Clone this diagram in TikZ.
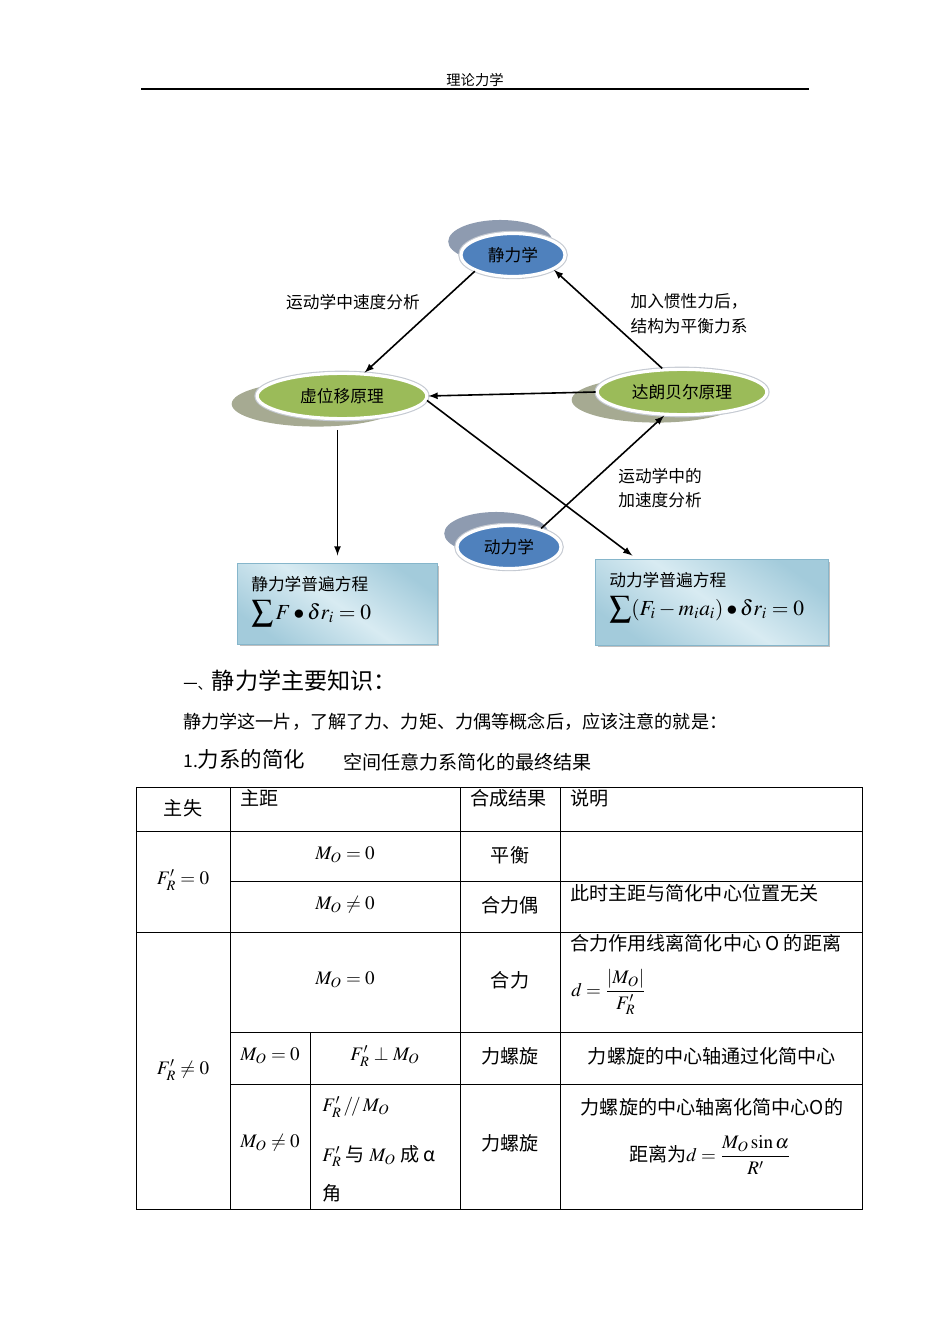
\documentclass[tikz,border=0pt]{standalone}
\usepackage{amsmath,amssymb}
\usepackage{mathptmx}
\usepackage[no-math]{fontspec}
\setmainfont{Noto Sans CJK SC}
\usepackage{xcolor}
\usetikzlibrary{arrows,shapes,positioning,shadows,calc}

\definecolor{staticblue}{HTML}{4F81BD}
\definecolor{ringgray}{HTML}{C5CAD2}
\definecolor{blueshade}{HTML}{8E9BB0}
\definecolor{principlegreen}{HTML}{9BBB59}
\definecolor{greenshade}{HTML}{A6AA92}
\definecolor{boxblue}{HTML}{A3CBDB}
\definecolor{boxlight}{HTML}{D8EBF2}
\definecolor{boxedge}{HTML}{86B6CB}

\begin{document}
\begin{tikzpicture}[x=0.0221cm, y=-0.0221cm,
    ball/.style={ellipse, draw=white, line width=2pt, inner sep=0pt,
        font=\fontsize{10.5}{12}\selectfont},
    blueball/.style={ball, general shadow={fill=blueshade, shadow xshift=-8pt, shadow yshift=8.5pt},
        preaction={draw=ringgray, line width=3.4pt}, fill=staticblue,
        minimum width=2.3cm, minimum height=0.95cm},
    greenball/.style={ball, general shadow={fill=greenshade, shadow xshift=-16pt, shadow yshift=-5pt},
        preaction={draw=ringgray, line width=3.4pt}, fill=principlegreen,
        minimum width=3.75cm, minimum height=1.0cm},
    eqbox/.style={draw=boxedge, line width=0.6pt,
        general shadow={fill=black!25, shadow xshift=1.2pt, shadow yshift=-1.2pt},
        top color=boxblue, bottom color=boxblue, middle color=boxlight, shading angle=-35},
    arrowline/.style={-latex, line width=1pt},
    labeltext/.style={font=\fontsize{10.5}{15.5}\selectfont, inner sep=0pt},
    cell/.style={font=\fontsize{12}{14}\selectfont, inner sep=0pt},
    tableline/.style={line width=0.6pt}]

    % page
    \useasboundingbox[fill=white] (0,0) rectangle (950,1344);
    \node[font=\fontsize{9}{10}\selectfont] (header) at (475,80) {理论力学};
    \draw[line width=1pt] (141,89) -- (809,89);

    % Ellipses for the four topics
    \node[blueball] (statics) at (513,255) {静力学};
    \node[greenball] (virtual) at (342,396) {虚位移原理};
    \node[greenball] (dalembert) at (682,392) {达朗贝尔原理};
    \node[blueball] (dynamics) at (509,547) {动力学};

    % Boxes for the general equations
    \node[eqbox, minimum width=4.4cm, minimum height=1.77cm] (statEq) at (337.5,604) {};
    \node[eqbox, minimum width=5.13cm, minimum height=1.88cm] (dynEq) at (712,602.5) {};
    \node[labeltext, anchor=west] (statEqTitle) at (251,584) {静力学普遍方程};
    \node[anchor=west, font=\fontsize{13.5}{15}\selectfont, inner sep=0pt] (statEqFormula) at (251,614)
        {$\displaystyle\sum F\bullet\delta r_i=0$};
    \node[labeltext, anchor=west] (dynEqTitle) at (609,580) {动力学普遍方程};
    \node[anchor=west, font=\fontsize{13.5}{15}\selectfont, inner sep=0pt] (dynEqFormula) at (609,610)
        {$\displaystyle\sum(F_i-m_ia_i)\bullet\delta r_i=0$};

    % Arrows
    \draw[arrowline] (statics.203) -- (virtual.46);
    \draw[arrowline] (dalembert.130) -- (statics.340);
    \draw[arrowline] (dalembert.west) -- (virtual.east);
    \draw[arrowline, shorten >=4pt] (virtual.357) -- (dynEq.150);
    \draw[arrowline] (dynamics.30) -- (dalembert.233);
    \draw[arrowline, shorten <=6pt, shorten >=5pt] (virtual.south -| statEq.north) -- (statEq.north);

    % Arrow labels
    \node[labeltext] (velocityLabel) at (353,302) {运动学中速度分析};
    \node[labeltext, align=center] (inertiaLabel) at (689,314) {加入惯性力后，\\结构为平衡力系};
    \node[labeltext, align=left, anchor=west] (accelLabel) at (618,488) {运动学中的\\加速度分析};

    % Section text
    \node[anchor=base west, inner sep=0pt] (sectionTitle) at (183,689)
        {{\fontsize{9}{10}\selectfont 一、}{\fontsize{14.5}{16}\selectfont 静力学主要知识：}};
    \node[anchor=west, inner sep=0pt, font=\fontsize{11.4}{13}\selectfont] (introText) at (183,722)
        {静力学这一片，了解了力、力矩、力偶等概念后，应该注意的就是：};
    \node[anchor=west, inner sep=0pt, font=\fontsize{13.5}{15}\selectfont] (reduceTitle) at (183,759)
        {{\fontsize{11}{12}\selectfont 1.}力系的简化};
    \node[cell, anchor=west] (reduceNote) at (343,762) {空间任意力系简化的最终结果};

    % Table
    \draw[tableline] (136,787) rectangle (862,1209);
    \foreach \y in {831,932} \draw[tableline] (136,\y) -- (862,\y);
    \foreach \y in {881,1032,1084} \draw[tableline] (230,\y) -- (862,\y);
    \foreach \x in {230,460,560} \draw[tableline] (\x,787) -- (\x,1209);
    \draw[tableline] (310,1032) -- (310,1209);

    \node[cell] (headMain) at (183,808) {主失};
    \node[cell, anchor=west] (headMoment) at (240,798) {主距};
    \node[cell, anchor=west] (headResult) at (470,798) {合成结果};
    \node[cell, anchor=west] (headNote) at (570,798) {说明};

    \node[cell] (forceZero) at (183,880) {$F'_R=0$};
    \node[cell] (momZeroA) at (345,855) {$M_O=0$};
    \node[cell] (balance) at (510,855) {平衡};
    \node[cell] (momNonzeroA) at (345,905) {$M_O\neq0$};
    \node[cell] (couple) at (510,905) {合力偶};
    \node[cell, anchor=west] (coupleNote) at (570,893) {此时主距与简化中心位置无关};

    \node[cell] (forceNonzero) at (183,1070) {$F'_R\neq0$};
    \node[cell] (momZeroB) at (345,980) {$M_O=0$};
    \node[cell] (resultant) at (510,980) {合力};
    \node[cell, anchor=west] (resultantNote) at (570,943) {合力作用线离简化中心 O 的距离};
    \node[cell, anchor=west] (resultantDist) at (571,992) {$d=\dfrac{|M_O|}{F'_R}$};

    \node[cell] (momZeroC) at (270,1056) {$M_O=0$};
    \node[cell] (perpCase) at (385,1056) {$F'_R\perp M_O$};
    \node[cell] (wrenchA) at (510,1056) {力螺旋};
    \node[cell] (wrenchNoteA) at (712,1056) {力螺旋的中心轴通过化简中心};

    \node[cell] (momNonzeroC) at (270,1143) {$M_O\neq0$};
    \node[cell, anchor=west] (parallelCase) at (322,1107) {$F'_R\,/\!/\,M_O$};
    \node[cell, anchor=west] (angleCase) at (322,1156) {$F'_R$ 与 $M_O$ 成 α};
    \node[cell, anchor=west] (angleCaseEnd) at (322,1193) {角};
    \node[cell] (wrenchB) at (510,1143) {力螺旋};
    \node[cell] (wrenchNoteB) at (712,1107) {力螺旋的中心轴离化简中心O的};
    \node[cell] (wrenchDist) at (710,1155) {距离为$d=\dfrac{M_O\sin\alpha}{R'}$};
\end{tikzpicture}
\end{document}
